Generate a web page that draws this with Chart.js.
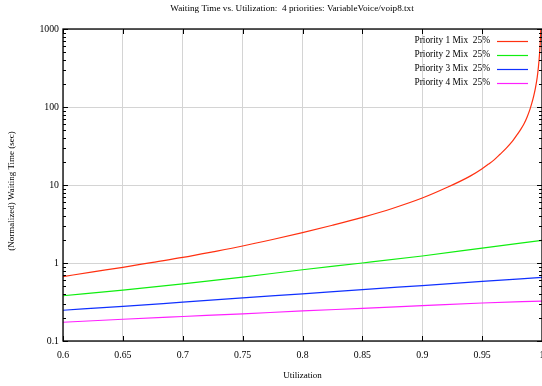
<!DOCTYPE html>
<html>
<head>
<meta charset="utf-8">
<script src="https://cdn.jsdelivr.net/npm/chart.js@4.4.1/dist/chart.umd.min.js"></script>
<style>
  html, body { margin: 0; padding: 0; background: #fff; overflow: hidden; }
  #wrap { width: 542px; height: 386px; position: relative; }
</style>
</head>
<body>
<div id="wrap"><canvas id="chart"></canvas></div>
<script>
// tick values and labels
const xTicks = [0.6, 0.65, 0.7, 0.75, 0.8, 0.85, 0.9, 0.95, 1];
const xTickLabels = ['0.6', '0.65', '0.7', '0.75', '0.8', '0.85', '0.9', '0.95', '1'];
const yTicks = [0.1, 1, 10, 100, 1000];
const yTickLabels = ['0.1', '1', '10', '100', '1000'];

const chartTitle = 'Waiting Time vs. Utilization:  4 priorities: VariableVoice/voip8.txt';
const yTitle = '(Normalized) Waiting Time (sec)';
const seriesNames = ['Priority 1 Mix  25%', 'Priority 2 Mix  25%', 'Priority 3 Mix  25%', 'Priority 4 Mix  25%'];
const seriesColors = ['#ff3010', '#10ee10', '#1030ff', '#ff20ff'];

// priority 1 (blows up near utilization 1)
const util1 = [0.6, 0.625, 0.65, 0.675, 0.7, 0.725, 0.75, 0.775, 0.8, 0.825, 0.85, 0.875, 0.9, 0.92, 0.94, 0.95,
  0.955, 0.96, 0.965, 0.97, 0.975, 0.98, 0.9825, 0.985, 0.9875, 0.99, 0.9915, 0.993, 0.9945, 0.996, 0.997,
  0.998, 0.9985, 0.999, 0.9993];
const wait1 = [0.67, 0.77, 0.88, 1.02, 1.18, 1.39, 1.65, 2.0, 2.45, 3.05, 3.85, 5.0, 6.8, 9.2, 13, 16.2,
  18.4, 21, 24.8, 29.5, 36, 46, 52.5, 61, 74, 94, 112, 137, 175, 240, 325,
  490, 655, 985, 1400];

// priorities 2-4
const utilLow = [0.6, 0.65, 0.7, 0.75, 0.8, 0.85, 0.9, 0.95, 1];
const wait2 = [0.38, 0.45, 0.54, 0.66, 0.82, 1.0, 1.23, 1.55, 1.95];
const wait3 = [0.248, 0.278, 0.315, 0.357, 0.403, 0.456, 0.514, 0.58, 0.655];
const wait4 = [0.174, 0.19, 0.206, 0.223, 0.243, 0.262, 0.284, 0.307, 0.325];

const serif = 'Liberation Serif';

function pts(xs, ys) {
  return xs.map((x, i) => ({ x: x, y: ys[i] }));
}

const seriesData = [pts(util1, wait1), pts(utilLow, wait2), pts(utilLow, wait3), pts(utilLow, wait4)];

// titles, frame, inward ticks and gnuplot-style key
const gnuplotBits = {
  id: 'gnuplotBits',
  afterDraw(chart) {
    const ctx = chart.ctx;
    const a = chart.chartArea;
    const xs = chart.scales.x;
    const ys = chart.scales.y;
    ctx.save();

    ctx.fillStyle = '#000';
    ctx.textAlign = 'center';
    ctx.textBaseline = 'middle';
    ctx.font = '9.2px "' + serif + '"';
    ctx.fillText(chartTitle, 292, 9);

    ctx.save();
    ctx.translate(12, 191);
    ctx.rotate(-Math.PI / 2);
    ctx.font = '9px "' + serif + '"';
    ctx.fillText(yTitle, 0, 0);
    ctx.restore();

    ctx.strokeStyle = '#000';
    ctx.lineWidth = 1;
    ctx.beginPath();
    xTicks.forEach(v => {
      const px = Math.round(xs.getPixelForValue(v)) + 0.5;
      ctx.moveTo(px, a.bottom); ctx.lineTo(px, a.bottom - 5);
      ctx.moveTo(px, a.top); ctx.lineTo(px, a.top + 5);
    });
    yTicks.forEach((v, i) => {
      const py = Math.round(ys.getPixelForValue(v)) + 0.5;
      ctx.moveTo(a.left, py); ctx.lineTo(a.left + 5, py);
      ctx.moveTo(a.right, py); ctx.lineTo(a.right - 5, py);
      if (i < yTicks.length - 1) {
        for (let m = 2; m < 10; m++) {
          const my = Math.round(ys.getPixelForValue(v * m)) + 0.5;
          ctx.moveTo(a.left, my); ctx.lineTo(a.left + 3, my);
          ctx.moveTo(a.right, my); ctx.lineTo(a.right - 3, my);
        }
      }
    });
    ctx.stroke();

    ctx.lineWidth = 1.3;
    ctx.strokeRect(a.left, a.top, a.right - a.left, a.bottom - a.top);

    // key
    ctx.font = '9.4px "' + serif + '"';
    ctx.textAlign = 'right';
    seriesNames.forEach((name, i) => {
      const y = 41 + i * 14;
      ctx.fillStyle = '#000';
      ctx.fillText(name, 490, y);
      ctx.strokeStyle = seriesColors[i];
      ctx.lineWidth = 1.2;
      ctx.beginPath();
      ctx.moveTo(497, y + 0.5);
      ctx.lineTo(528, y + 0.5);
      ctx.stroke();
    });
    ctx.restore();
  }
};

Chart.defaults.color = '#000';
Chart.defaults.font.family = serif;

new Chart(document.getElementById('chart'), {
  type: 'line',
  data: {
    datasets: seriesData.map((d, i) => ({
      label: seriesNames[i],
      data: d,
      borderColor: seriesColors[i],
      backgroundColor: seriesColors[i],
      borderWidth: 1.2,
      pointRadius: 0,
      cubicInterpolationMode: 'monotone',
      fill: false
    }))
  },
  options: {
    responsive: true,
    maintainAspectRatio: false,
    animation: false,
    layout: { padding: { top: 29, left: 0, right: 0, bottom: 0 } },
    plugins: {
      legend: { display: false },
      tooltip: { enabled: false },
      title: { display: false }
    },
    scales: {
      x: {
        type: 'linear',
        min: 0.6,
        max: 1,
        afterBuildTicks: s => { s.ticks = xTicks.map(v => ({ value: v })); },
        afterFit: s => { s.height = 45; s.paddingLeft = 0; s.paddingRight = 0; },
        ticks: {
          callback: (v, i) => xTickLabels[i],
          font: { family: serif, size: 9.8 },
          padding: 9,
          maxRotation: 0,
          autoSkip: false
        },
        grid: { color: '#d4d4d4', drawTicks: false, lineWidth: 1 },
        border: { display: false },
        title: {
          display: true,
          text: 'Utilization',
          font: { family: serif, size: 9 },
          padding: { top: 0, bottom: 4.5 }
        }
      },
      y: {
        type: 'logarithmic',
        min: 0.1,
        max: 1000,
        afterBuildTicks: s => { s.ticks = yTicks.map(v => ({ value: v, major: true })); },
        afterFit: s => { s.width = 63; s.paddingTop = 0; s.paddingBottom = 0; },
        ticks: {
          callback: (v, i) => yTickLabels[i],
          font: { family: serif, size: 9.8 },
          padding: 4,
          autoSkip: false
        },
        grid: { color: '#d4d4d4', drawTicks: false, lineWidth: 1 },
        border: { display: false }
      }
    }
  },
  plugins: [gnuplotBits]
});
</script>
</body>
</html>
